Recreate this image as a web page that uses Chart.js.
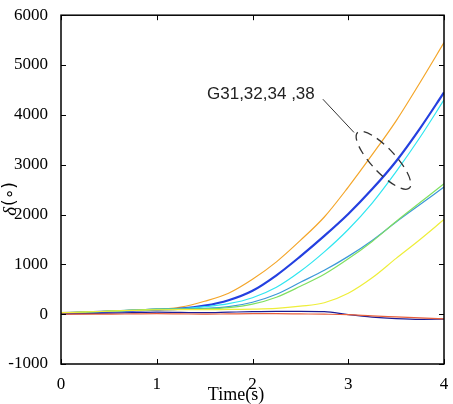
<!DOCTYPE html>
<html><head><meta charset="utf-8">
<script src="https://cdn.jsdelivr.net/npm/chart.js@4/dist/chart.umd.min.js"></script>
<style>html,body{margin:0;padding:0;background:#fff}#wrap{width:453px;height:404px;position:relative}</style>
</head><body><div id="wrap"><canvas id="c"></canvas></div>
<script>
const time = [0,0.25,0.5,0.75,1,1.25,1.5,1.75,2,2.25,2.5,2.75,3,3.25,3.5,3.75,4];
const gOrange = [20,35,50,70,90,140,260,420,700,1050,1480,1950,2550,3200,3880,4650,5450];
const gBlue   = [20,35,50,70,90,110,170,280,470,780,1160,1570,2010,2510,3070,3730,4450];
const gCyan   = [20,35,55,75,95,110,150,210,330,540,860,1250,1700,2230,2860,3550,4300];
const gLtBlue = [25,40,60,80,100,105,115,150,240,400,640,880,1160,1480,1850,2200,2550];
const gGreen  = [25,40,60,80,100,100,105,130,200,340,560,800,1110,1460,1860,2240,2620];
const gYellow = [30,45,60,75,85,90,90,95,100,115,160,230,420,730,1120,1500,1900];
const gRed    = [0,0,0,5,10,5,0,5,10,10,5,0,-10,-35,-55,-75,-95];
const gNavy   = [0,10,20,30,40,35,30,40,50,55,55,50,-10,-60,-90,-105,-100];
const xTicks = [0,1,2,3,4];
const yTicks = [-1000,0,1000,2000,3000,4000,5000,6000];
const annoText = "G31,32,34 ,38";
const annoAt = {x:1.525, y:4314};
const leaderFrom = {x:2.735, y:4314}, leaderTo = {x:3.06, y:3647};
const ellipseAt = {x:3.368, y:3088};

function series(vals){ return vals.map((v,i)=>({x:time[i], y:v})); }
const defs = [
  [gRed,'#e8603c',1.2],[gNavy,'#1c1c96',1.2],[gYellow,'#eeee3a',1.2],
  [gGreen,'#80e060',1.2],[gLtBlue,'#3c98d8',1.2],[gCyan,'#30e6f0',1.2],
  [gBlue,'#2440e0',2.2],[gOrange,'#f4a62a',1.2]
];
const datasets = defs.map(d=>({data:series(d[0]), borderColor:d[1], borderWidth:d[2], pointRadius:0, cubicInterpolationMode:'monotone', fill:false}));

const frame = {
  id:'frame',
  afterDraw(chart){
    const {ctx, chartArea:a, scales:{x,y}} = chart;
    ctx.save();
    ctx.strokeStyle='#000'; ctx.lineWidth=1.5;
    ctx.strokeRect(a.left, a.top, a.right-a.left, a.bottom-a.top);
    ctx.lineWidth=1;
    const L=5;
    xTicks.forEach(t=>{ const px=Math.round(x.getPixelForValue(t))+0.5;
      ctx.beginPath(); ctx.moveTo(px,a.bottom); ctx.lineTo(px,a.bottom-L);
      ctx.moveTo(px,a.top); ctx.lineTo(px,a.top+L); ctx.stroke(); });
    yTicks.forEach(t=>{ const py=Math.round(y.getPixelForValue(t))+0.5;
      ctx.beginPath(); ctx.moveTo(a.left,py); ctx.lineTo(a.left+L,py);
      ctx.moveTo(a.right,py); ctx.lineTo(a.right-L,py); ctx.stroke(); });
    ctx.fillStyle='#000';
    ctx.font='18px "Liberation Serif"'; ctx.textAlign='center'; ctx.textBaseline='middle';
    ctx.fillText('Time(s)', 236, 395);
    ctx.translate(11,205); ctx.rotate(-Math.PI/2);
    ctx.font='italic 19px "Liberation Serif"'; ctx.textAlign='right';
    ctx.fillText('δ', -2, 0);
    ctx.font='17px "DejaVu Sans"'; ctx.textAlign='left';
    ctx.fillText('(∘)', -1, 0);
    ctx.restore();
    ctx.save();
    ctx.fillStyle='#222'; ctx.font='17px "Liberation Sans"'; ctx.textAlign='left'; ctx.textBaseline='alphabetic';
    ctx.fillText(annoText, x.getPixelForValue(annoAt.x), y.getPixelForValue(annoAt.y));
    ctx.strokeStyle='#333'; ctx.lineWidth=1;
    ctx.beginPath(); ctx.moveTo(x.getPixelForValue(leaderFrom.x), y.getPixelForValue(leaderFrom.y));
    ctx.lineTo(x.getPixelForValue(leaderTo.x), y.getPixelForValue(leaderTo.y)); ctx.stroke();
    ctx.setLineDash([9,6]); ctx.lineWidth=1.3;
    ctx.beginPath();
    ctx.ellipse(x.getPixelForValue(ellipseAt.x), y.getPixelForValue(ellipseAt.y), 38, 12, 47*Math.PI/180, 0, 2*Math.PI);
    ctx.stroke();
    ctx.restore();
  }
};

new Chart(document.getElementById('c'), {
  type:'line',
  data:{datasets},
  plugins:[frame],
  options:{
    responsive:true, maintainAspectRatio:false, animation:false,
    layout:{padding:{top:7,right:9,left:0,bottom:0}},
    plugins:{legend:{display:false}, tooltip:{enabled:false}},
    scales:{
      x:{type:'linear', min:0, max:4,
        afterBuildTicks(s){ s.ticks = xTicks.map(v=>({value:v})); },
        afterFit(s){ s.height = 40; },
        grid:{display:false}, border:{display:false},
        ticks:{color:'#000', font:{family:'Liberation Serif', size:17}, padding:2, maxRotation:0, callback:v=>String(v)}},
      y:{type:'linear', min:-1000, max:6000,
        afterBuildTicks(s){ s.ticks = yTicks.map(v=>({value:v})); },
        afterFit(s){ s.width = 61; },
        grid:{display:false}, border:{display:false},
        ticks:{color:'#000', font:{family:'Liberation Serif', size:17}, padding:5, callback:v=>String(v)}}
    }
  }
});
</script></body></html>
